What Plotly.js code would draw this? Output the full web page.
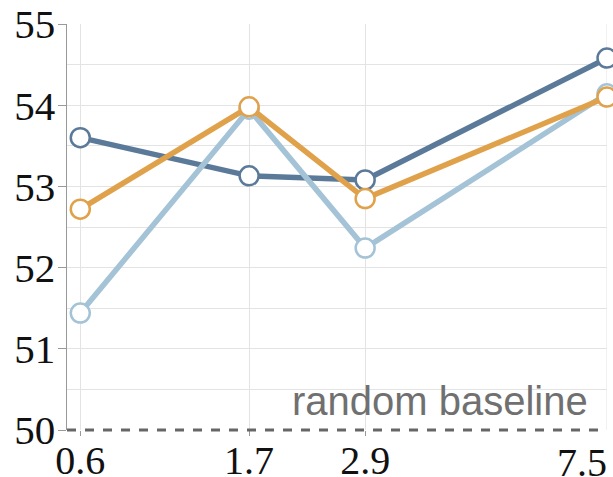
<!DOCTYPE html>
<html>
<head>
<meta charset="utf-8">
<script src="https://cdn.plot.ly/plotly-3.0.1.min.js"></script>
<style>html,body{margin:0;padding:0;background:#fff;}#chart{width:613px;height:477px;}</style>
</head>
<body>
<div id="chart"></div>
<script>
// Data
const xLabels = ["0.6", "1.7", "2.9", "7.5"];
const xValues = [0.6, 1.7, 2.9, 7.5];
const seriesDark = [53.60, 53.13, 53.08, 54.58];
const seriesLight = [51.44, 53.95, 52.24, 54.14];
const seriesOrange = [52.72, 53.98, 52.85, 54.10];
const baselineValue = 50;
const baselineLabel = "random baseline";

// x axis is drawn on a log(x + offset) scale
const xOffset = 0.88;
const tx = v => Math.log10(v + xOffset);
const xs = xValues.map(tx);
const nLast = xs.length - 1;

const serif = "Liberation Serif, Times New Roman, serif";
const lineW = 5.5;
function trace(y, color) {
  return {
    x: xs, y: y, type: "scatter", mode: "lines+markers",
    line: {color: color, width: lineW},
    marker: {symbol: "circle", size: 19, color: "#ffffff", line: {color: color, width: 2.5}},
    hoverinfo: "skip", showlegend: false, cliponaxis: false
  };
}

const x0 = xs[0] - 0.019;
const x1 = xs[nLast];

const data = [
  trace(seriesDark, "#5b7a9a"),
  trace(seriesLight, "#a4c3d7"),
  trace(seriesOrange, "#e0a14b")
];

const annotations = [{
  xref: "paper", x: 0.9685, xanchor: "right", yref: "paper", y: 0, yanchor: "bottom", yshift: 5,
  text: baselineLabel, showarrow: false,
  font: {family: "Liberation Sans, Arial, sans-serif", size: 40, color: "#707070"}
}, {
  // last x tick label sits left of its tick (at the plot edge)
  xref: "x", x: xs[nLast], xanchor: "right", xshift: 2, yref: "paper", y: 0, yanchor: "top", yshift: -8,
  text: xLabels[nLast], showarrow: false,
  font: {family: serif, size: 40, color: "#111"}
}];

const layout = {
  width: 613, height: 477,
  margin: {l: 67, r: 6, t: 24, b: 47},
  paper_bgcolor: "#fff", plot_bgcolor: "#fff",
  showlegend: false,
  xaxis: {
    range: [x0, x1], tickmode: "array", tickvals: xs.slice(0, nLast), ticktext: xLabels.slice(0, nLast),
    showgrid: true, gridcolor: "#e3e3e3", gridwidth: 1,
    zeroline: false, showline: false,
    ticks: "outside", ticklen: 5, tickcolor: "#999", tickwidth: 1,
    tickfont: {family: serif, size: 40, color: "#111"},
    ticklabelstandoff: -10, ticklabeloverflow: "allow"
  },
  yaxis: {
    range: [50, 55], tickmode: "linear", tick0: 50, dtick: 1,
    showgrid: true, gridcolor: "#e3e3e3", gridwidth: 1,
    minor: {dtick: 0.5, showgrid: true, gridcolor: "#e3e3e3", gridwidth: 1},
    zeroline: false, showline: true, linecolor: "#999", linewidth: 1.5,
    ticks: "outside", ticklen: 8, tickcolor: "#999", tickwidth: 1,
    tickfont: {family: serif, size: 41, color: "#111"},
    ticklabelstandoff: -6
  },
  shapes: [{
    type: "line", layer: "above", xref: "paper", x0: 0, x1: 1, yref: "paper", y0: 0, y1: 0,
    line: {color: "#666", width: 3, dash: "dash"}
  }, {
    type: "line", layer: "below", xref: "x", x0: xs[nLast], x1: xs[nLast], yref: "paper", y0: 0, y1: 1,
    line: {color: "#e3e3e3", width: 1}
  }],
  annotations: annotations
};

Plotly.newPlot("chart", data, layout, {displayModeBar: false, staticPlot: true});
</script>
</body>
</html>
